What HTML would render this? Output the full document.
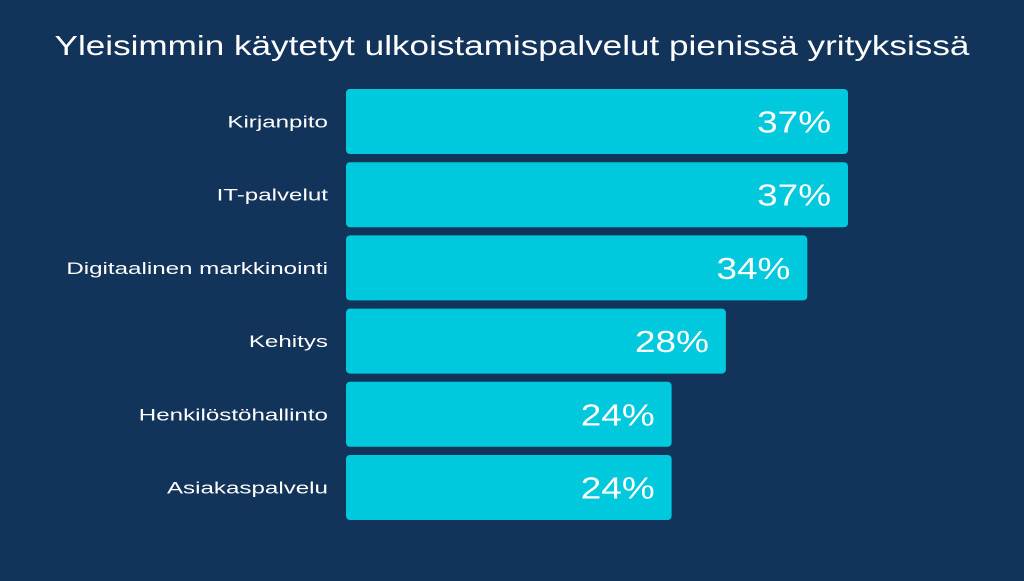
<!DOCTYPE html>
<html><head><meta charset="utf-8"><style>
html,body{margin:0;padding:0;}
body{width:1024px;height:576px;background:#12345a;overflow:hidden;font-family:"Liberation Sans",sans-serif;}
</style></head><body>
<svg width="1024" height="576" font-family="Liberation Sans, sans-serif">
<rect width="1024" height="576" fill="#12345a"/>
<text id="title" x="512" y="55" text-anchor="middle" fill="#fff" font-size="28">Yleisimmin käytetyt ulkoistamispalvelut pienissä yrityksissä</text>
<g id="bars"></g>
</svg>
<script>
const categories=["Kirjanpito","IT-palvelut","Digitaalinen markkinointi","Kehitys","Henkilöstöhallinto","Asiakaspalvelu"];
const values=[37,37,34,28,24,24];
const labels=["37%","37%","34%","28%","24%","24%"];
const x0=346,scale=(848-346)/37,top0=89,pitch=73.2,h=65;
const g=document.getElementById('bars');
const ns='http://www.w3.org/2000/svg';
function stretch(el,f){const L=el.getComputedTextLength();el.setAttribute('textLength',L*f);el.setAttribute('lengthAdjust','spacingAndGlyphs');}
stretch(document.getElementById('title'),1.30*27/28);
categories.forEach((c,i)=>{
  const y=top0+i*pitch,w=values[i]*scale;
  const r=document.createElementNS(ns,'rect');
  r.setAttribute('x',x0);r.setAttribute('y',y);r.setAttribute('width',w);r.setAttribute('height',h);
  r.setAttribute('rx',4);r.setAttribute('fill','#00c9dd');
  
  
  g.appendChild(r);
  const t=document.createElementNS(ns,'text');
  t.setAttribute('x',x0+w-17);t.setAttribute('y',y+h/2+11);t.setAttribute('text-anchor','end');
  t.setAttribute('fill','#fff');t.setAttribute('font-size','31');
  t.textContent=labels[i];
  
  
  g.appendChild(t);
  stretch(t,1.19);
  const l=document.createElementNS(ns,'text');
  l.setAttribute('x',328);l.setAttribute('y',y+h/2+6);l.setAttribute('text-anchor','end');
  l.setAttribute('fill','#fff');l.setAttribute('font-size','17');
  l.textContent=c;
  
  
  g.appendChild(l);
  stretch(l,1.42);
});
</script>
</body></html>
